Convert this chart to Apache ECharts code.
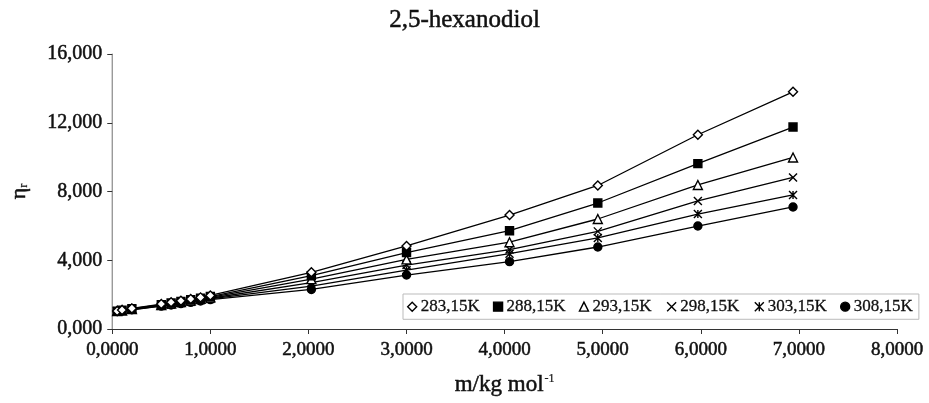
<!DOCTYPE html>
<html>
<head>
<meta charset="utf-8">
<script src="https://cdn.jsdelivr.net/npm/echarts@6/dist/echarts.min.js"></script>
<style>
  html, body { margin: 0; padding: 0; background: #fff; }
  #chart { width: 929px; height: 403px; }
</style>
</head>
<body>
<div id="chart"></div>
<script>
// molality, m/kg mol-1
var molality = [0.05, 0.1, 0.2, 0.5, 0.6, 0.7, 0.8, 0.9, 1.0, 2.03, 3.0, 4.05, 4.95, 5.97, 6.94];

// relative viscosity per temperature
var eta28315 = [1.05, 1.10, 1.20, 1.45, 1.55, 1.64, 1.74, 1.84, 1.95, 3.30, 4.83, 6.63, 8.35, 11.30, 13.80];
var eta28815 = [1.04, 1.09, 1.18, 1.42, 1.51, 1.60, 1.70, 1.79, 1.89, 3.10, 4.45, 5.72, 7.33, 9.62, 11.75];
var eta29315 = [1.04, 1.08, 1.16, 1.40, 1.48, 1.57, 1.66, 1.75, 1.84, 2.90, 4.05, 5.05, 6.40, 8.38, 9.98];
var eta29815 = [1.03, 1.07, 1.15, 1.37, 1.45, 1.54, 1.62, 1.70, 1.79, 2.70, 3.72, 4.62, 5.68, 7.45, 8.82];
var eta30315 = [1.03, 1.06, 1.13, 1.35, 1.43, 1.51, 1.59, 1.67, 1.75, 2.50, 3.42, 4.38, 5.30, 6.69, 7.80];
var eta30815 = [1.02, 1.05, 1.12, 1.33, 1.40, 1.48, 1.55, 1.63, 1.71, 2.30, 3.14, 3.92, 4.77, 5.99, 7.10];

var seriesNames = ['283,15K', '288,15K', '293,15K', '298,15K', '303,15K', '308,15K'];
var seriesValues = [eta28315, eta28815, eta29315, eta29815, eta30315, eta30815];

var FONT = '"Liberation Serif", "DejaVu Serif", serif';
// scanned text looks heavier than plain Times, thicken it a little
var INK = {color: '#111', textBorderColor: '#111', textBorderWidth: 0.5};

// marker per series
var markers = [
    {symbol: 'diamond', fill: '#fff', size: 9},
    {symbol: 'rect', fill: '#000', size: 8},
    {symbol: 'triangle', fill: '#fff', size: 9},
    {symbol: 'path://M0,0 L10,10 M10,0 L0,10', fill: 'none', size: 8},
    {symbol: 'path://M0,0 L10,10 M10,0 L0,10 M5,0 L5,10', fill: 'none', size: 8},
    {symbol: 'circle', fill: '#000', size: 8}
];

function pairs(xs, ys) {
    var out = [];
    for (var i = 0; i < xs.length; i++) {
        out.push([xs[i], ys[i]]);
    }
    return out;
}

function ink(extra) {
    return Object.assign({}, INK, extra);
}

var series = seriesNames.map(function (name, i) {
    var mk = markers[i];
    return {
        name: name,
        type: 'line',
        data: pairs(molality, seriesValues[i]),
        symbol: mk.symbol,
        symbolSize: mk.size,
        showAllSymbol: true,
        lineStyle: {color: '#000', width: 1.3},
        itemStyle: {color: mk.fill, borderColor: '#000', borderWidth: 1.4},
        z: 10 - i
    };
});

var chart = echarts.init(document.getElementById('chart'));
chart.setOption({
    backgroundColor: '#fff',
    animation: false,
    title: {
        text: '2,5-hexanodiol',
        left: 'center',
        top: 3,
        textStyle: ink({fontFamily: FONT, fontSize: 25, fontWeight: 'normal'})
    },
    legend: {
        data: seriesNames.map(function (name, i) {
            return {
                name: name,
                icon: markers[i].symbol,
                itemStyle: {color: markers[i].fill, borderColor: '#000', borderWidth: 1.4}
            };
        }),
        left: 403,
        top: 294,
        width: 522,
        itemWidth: 9,
        itemHeight: 9,
        itemGap: 13,
        padding: [4, 6, 4, 4],
        borderColor: '#bbb',
        borderWidth: 1,
        textStyle: ink({fontFamily: FONT, fontSize: 17, textBorderWidth: 0.3, padding: [0, 0, 0, -1]})
    },
    grid: {left: 103, right: 32, top: 54, bottom: 74},
    xAxis: {
        type: 'value',
        min: 0,
        max: 8,
        interval: 1,
        name: '{a|m/kg mol}{s|-1}',
        nameLocation: 'middle',
        nameGap: 44,
        nameTextStyle: {
            rich: {
                a: ink({fontFamily: FONT, fontSize: 23}),
                s: ink({fontFamily: FONT, fontSize: 12, textBorderWidth: 0.2, verticalAlign: 'top', padding: [0, 0, 12, 1]})
            }
        },
        axisLine: {lineStyle: {color: '#333', width: 1.2}},
        axisTick: {show: true, inside: false, length: 5, lineStyle: {color: '#333'}},
        splitLine: {show: false},
        axisLabel: ink({
            fontFamily: FONT, fontSize: 19, margin: 12,
            formatter: function (v) { return v.toFixed(4).replace('.', ','); }
        })
    },
    yAxis: {
        type: 'value',
        min: 0,
        max: 16,
        interval: 4,
        name: '{a|η}{b|r}',
        nameLocation: 'middle',
        nameGap: 82,
        nameTextStyle: {
            rich: {
                a: ink({fontFamily: FONT, fontSize: 22}),
                b: ink({fontFamily: FONT, fontSize: 12, textBorderWidth: 0.2, padding: [9, 0, 0, 0]})
            }
        },
        axisLine: {show: true, lineStyle: {color: '#888', width: 1.2}},
        axisTick: {show: true, inside: false, length: 5, lineStyle: {color: '#333'}},
        splitLine: {show: false},
        axisLabel: ink({
            fontFamily: FONT, fontSize: 20, margin: 10,
            formatter: function (v) { return v.toFixed(3).replace('.', ','); }
        })
    },
    series: series
});
</script>
</body>
</html>
